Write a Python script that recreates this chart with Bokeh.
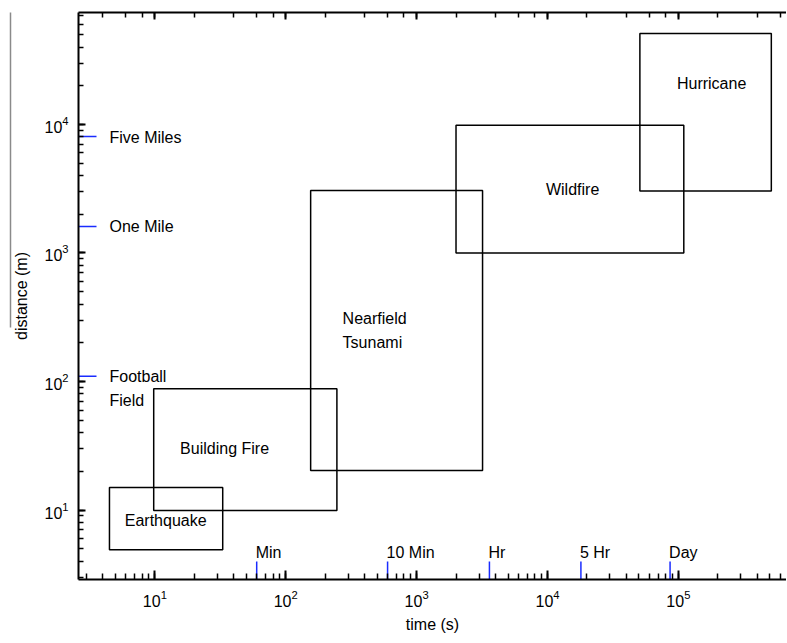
import numpy as np
from bokeh.plotting import figure
from bokeh.models import Range1d, LogAxis, FixedTicker
from bokeh.core.properties import value
from bokeh.embed import file_html
from bokeh.resources import INLINE

# ---- data ----
hazards = ["Earthquake", "Building Fire", "Nearfield\nTsunami", "Wildfire", "Hurricane"]
t_min = [4.5, 9.8, 155, 2000, 50800]
t_max = [33, 246, 3190, 110000, 513000]
d_min = [4.9, 9.9, 20.3, 1000, 3030]
d_max = [15, 88, 3060, 9870, 51000]
label_t = [12.1, 34.1, 272, 15560, 179500]
label_d = [8.3, 30, 249, 3120, 20850]
label_align = ["center", "center", "left", "center", "center"]

dist_marks = [8047, 1609, 110]
dist_names = ["Five Miles", "One Mile", "Football\nField"]
time_marks = [60, 600, 3600, 18000, 86400]
time_names = ["Min", "10 Min", "Hr", "5 Hr", "Day"]

x_start, x_end = 2.61, 6.7e5
y_start, y_end = 2.88, 74300
FONT = "Liberation Sans"

p = figure(x_axis_type="log", y_axis_type="log",
           x_range=Range1d(x_start, x_end), y_range=Range1d(y_start, y_end),
           frame_width=708, frame_height=567,
           min_border_left=78, min_border_right=0, min_border_top=12, min_border_bottom=60,
           output_backend="svg", toolbar_location=None,
           x_axis_label="time (s)", y_axis_label="distance (m)")
p.grid.visible = False
p.outline_line_color = None
p.background_fill_color = "white"
p.border_fill_color = "white"

for ax, maj, mino in [(p.xaxis[0], 9, 6), (p.yaxis[0], 7, 5)]:
    ax.major_tick_in = maj
    ax.major_tick_out = 0
    ax.minor_tick_in = mino
    ax.minor_tick_out = 0
    ax.axis_line_width = 2
    ax.major_tick_line_width = 2
    ax.minor_tick_line_width = 1.5
    ax.axis_line_color = "black"
    ax.major_tick_line_color = "black"
    ax.minor_tick_line_color = "black"
    ax.major_label_text_font = FONT
    ax.major_label_text_font_size = "16px"
    ax.major_label_text_color = "black"
    ax.axis_label_text_font = FONT
    ax.axis_label_text_font_size = "16px"
    ax.axis_label_text_font_style = "normal"
    ax.axis_label_text_color = "black"
    ax.major_label_standoff = 10

p.xaxis[0].axis_label_standoff = 6
p.yaxis[0].axis_label_standoff = 11

top = LogAxis(major_tick_in=7, major_tick_out=0, minor_tick_in=5, minor_tick_out=0,
              axis_line_width=2, major_tick_line_width=2, minor_tick_line_width=1.5,
              major_label_text_font_size="0px", major_label_standoff=0,
              major_label_text_alpha=0)
p.add_layout(top, "above")

# faint vertical line at far left of the page
art = LogAxis(ticker=FixedTicker(ticks=[]), bounds=(263, y_end),
              axis_line_color="#8a8a8a", axis_line_width=1.5,
              major_tick_line_color=None, minor_tick_line_color=None,
              major_label_text_font_size="0px", major_label_standoff=0)
p.add_layout(art, "left")

# hazard boxes
p.quad(left=t_min, right=t_max, bottom=d_min, top=d_max,
       fill_color=None, line_color="black", line_width=1.5)

for align in ["center", "left"]:
    idx = [i for i, a in enumerate(label_align) if a == align]
    p.text(x=[label_t[i] for i in idx], y=[label_d[i] for i in idx],
           text=[hazards[i] for i in idx], text_align=align, text_baseline="middle",
           text_font=value(FONT), text_font_size="16px", text_color="black",
           text_line_height=1.45)

# reference marks on the distance axis
p.scatter(x=[x_start] * len(dist_marks), y=dist_marks, marker="dash", size=36,
          line_color="#1a2cff", line_width=1.5)
p.text(x=[x_start] * len(dist_marks), y=dist_marks, text=dist_names,
       x_offset=31, y_offset=-8, text_align="left", text_baseline="top",
       text_font=value(FONT), text_font_size="16px", text_color="black",
       text_line_height=1.4)

# reference marks on the time axis
p.scatter(x=time_marks, y=[y_start] * len(time_marks), marker="dash", angle=np.pi / 2,
          size=36, line_color="#1a2cff", line_width=1.5)
p.text(x=time_marks, y=[y_start] * len(time_marks), text=time_names,
       x_offset=-1, y_offset=-27, text_align="left", text_baseline="alphabetic",
       text_font=value(FONT), text_font_size="16px", text_color="black")

open("out.html", "w").write(file_html(p, INLINE))
